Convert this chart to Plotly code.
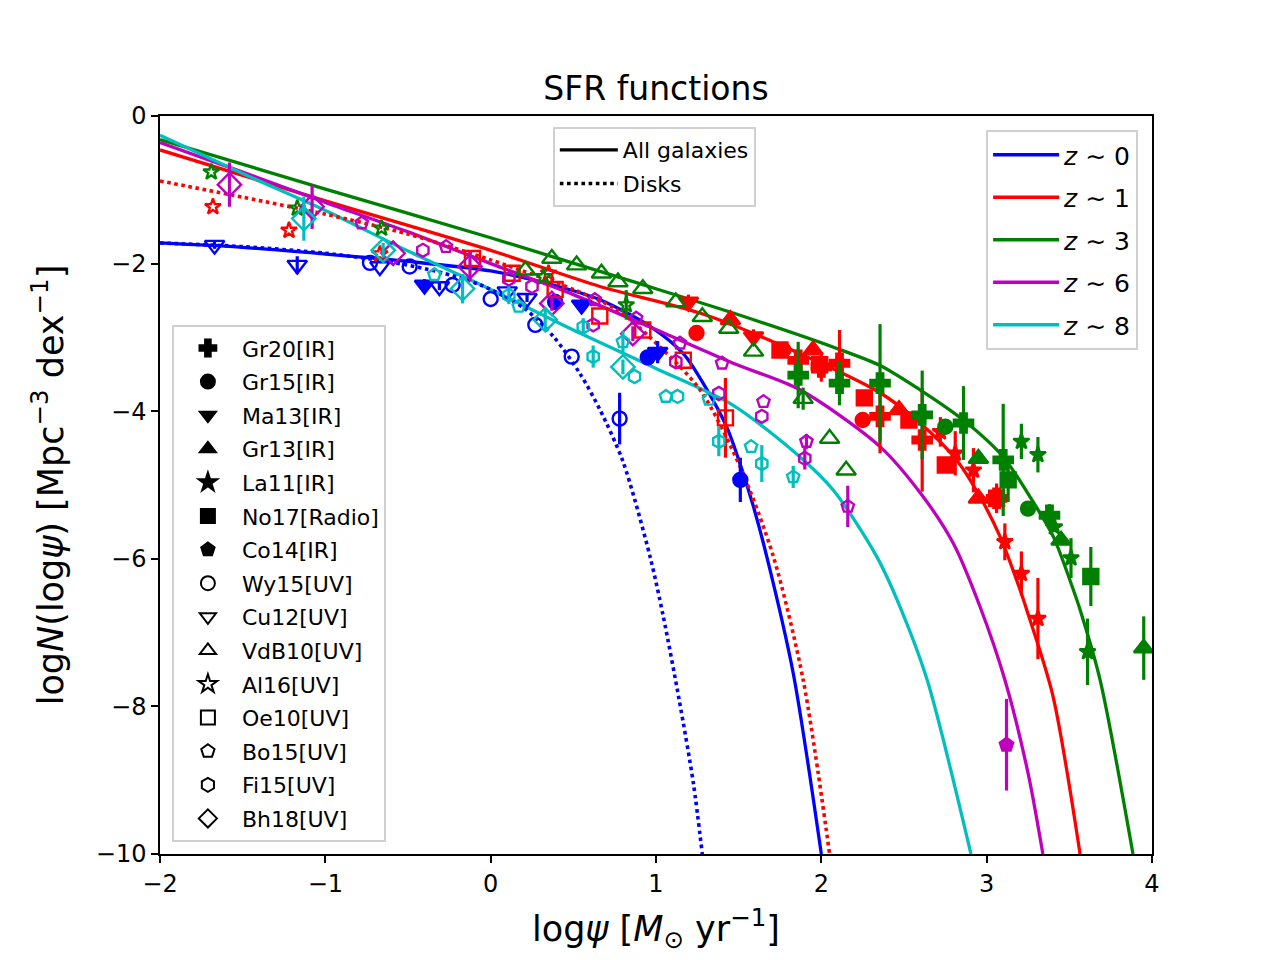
"""
SFR functions: model curves per redshift plus observed points from the literature
"""

import plotly.graph_objects as go

# ---- model curves (log psi, log N) ----
z0_x = [-2.0, -1.5, -1.0, -0.5, 0.0, 0.36, 0.661, 0.964, 1.165, 1.306, 1.427, 1.508, 1.589, 1.67, 1.83, 2.0]
z0_y = [-1.72, -1.78, -1.87, -1.97, -2.1, -2.28, -2.49, -2.85, -3.22, -3.70, -4.21, -4.71, -5.29, -5.97, -7.55, -10.0]

z1_x = [-2.0, -1.0, 0.0, 0.661, 1.266, 1.871, 2.355, 2.597, 2.818, 2.96, 3.081, 3.202, 3.242, 3.40, 3.565]
z1_y = [-0.46, -1.15, -1.82, -2.31, -2.67, -3.22, -3.75, -4.16, -4.66, -5.16, -5.70, -6.42, -6.69, -7.85, -10.0]

z3_x = [-2.0, -1.0, 0.0, 0.862, 1.467, 2.07, 2.355, 2.597, 2.859, 3.10, 3.262, 3.403, 3.524, 3.565, 3.686, 3.885]
z3_y = [-0.32, -0.99, -1.65, -2.245, -2.67, -3.13, -3.38, -3.71, -4.12, -4.62, -5.16, -5.70, -6.42, -6.69, -7.64, -10.0]

z6_x = [-2.0, -1.5, -1.0, -0.5, 0.0, 0.5, 0.964, 1.467, 1.871, 2.355, 2.616, 2.798, 2.96, 3.11, 3.25, 3.34]
z6_y = [-0.36, -0.76, -1.17, -1.57, -2.0, -2.42, -2.86, -3.35, -3.71, -4.48, -5.16, -5.79, -6.65, -7.64, -8.9, -10.0]

z8_x = [-2.0, -1.5, -1.0, -0.5, 0.0, 0.5, 1.0, 1.467, 1.871, 2.073, 2.335, 2.476, 2.64, 2.905]
z8_y = [-0.26, -0.78, -1.28, -1.83, -2.35, -2.9, -3.42, -3.92, -4.62, -5.07, -5.97, -6.65, -7.64, -10.0]

# disk-only curves (dotted)
z0_disk_x = [-2.0, -1.5, -1.0, -0.6, -0.3, -0.06, 0.2, 0.38, 0.54, 0.661, 0.80, 0.964, 1.044, 1.14, 1.226, 1.28]
z0_disk_y = [-1.72, -1.77, -1.86, -1.98, -2.12, -2.29, -2.6, -2.99, -3.49, -3.98, -4.68, -5.97, -6.78, -7.91, -9.04, -10.0]

z1_disk_x = [-2.0, -1.5, -1.0, -0.5, 0.0, 0.5, 0.76, 0.964, 1.266, 1.508, 1.71, 1.89, 2.05]
z1_disk_y = [-0.88, -1.1, -1.33, -1.6, -1.95, -2.35, -2.62, -3.0, -3.71, -4.75, -5.97, -7.64, -10.0]

# ---- observed points: (log psi, log N, error) ----
# z ~ 0
cu12_z0 = [(-1.67, -1.75, 0.05), (-1.17, -2.02, 0.12), (-0.67, -2.04, 0.0),
           (-0.31, -2.31, 0.05), (0.10, -2.38, 0.0), (0.22, -2.47, 0.05)]
wy15_z0 = [(-0.73, -1.99, 0.0), (-0.49, -2.04, 0.0), (-0.23, -2.29, 0.0), (0.0, -2.48, 0.0),
           (0.27, -2.83, 0.0), (0.49, -3.26, 0.0), (0.78, -4.10, 0.35)]
ma13_z0 = [(-0.40, -2.29, 0.08), (0.55, -2.56, 0.08), (1.01, -3.2, 0.15)]
gr15_z0 = [(0.39, -2.52, 0.0), (0.95, -3.27, 0.1), (1.51, -4.93, 0.3)]

# z ~ 1
al16_z1 = [(-1.68, -1.23, 0.0), (-1.22, -1.55, 0.0), (-0.67, -1.87, 0.0), (0.35, -2.13, 0.0)]
oe10_z1 = [(-0.11, -1.93, 0.0), (0.13, -2.13, 0.0), (0.39, -2.35, 0.0), (0.66, -2.71, 0.0),
           (0.92, -2.90, 0.0), (1.165, -3.31, 0.0), (1.42, -4.09, 0.54)]
gr15_z1 = [(1.245, -2.94, 0.0), (1.77, -3.17, 0.0), (2.25, -4.12, 0.0)]
ma13_z1 = [(1.196, -2.52, 0.1), (1.59, -2.99, 0.1)]
gr13_z1 = [(1.45, -2.76, 0.0), (1.95, -3.17, 0.0), (2.47, -3.98, 0.0), (2.95, -5.18, 0.0)]
gr20_z1 = [(1.86, -3.31, 0.15), (2.0, -3.40, 0.2), (2.11, -3.35, 0.45),
           (2.355, -4.07, 0.5), (2.61, -4.39, 0.7), (3.06, -5.18, 0.2)]
la11_z1 = [(2.72, -4.28, 0.2), (2.81, -4.57, 0.3), (2.92, -4.80, 0.3),
           (3.11, -5.77, 0.25), (3.21, -6.2, 0.3), (3.31, -6.81, 0.55)]
no17_z1 = [(1.75, -3.17, 0.0), (1.99, -3.37, 0.1), (2.26, -3.82, 0.0),
           (2.53, -4.12, 0.0), (2.75, -4.73, 0.0), (3.06, -5.18, 0.1)]

# z ~ 3
vdb10_z3 = [(0.21, -2.09, 0.0), (0.37, -1.93, 0.0), (0.52, -2.02, 0.0), (0.67, -2.13, 0.0),
            (0.77, -2.25, 0.0), (0.92, -2.34, 0.0), (1.12, -2.52, 0.0), (1.28, -2.72, 0.0),
            (1.44, -2.88, 0.0), (1.59, -3.19, 0.0), (1.89, -3.83, 0.15), (2.05, -4.37, 0.0),
            (2.15, -4.80, 0.0)]
al16_z3 = [(-1.69, -0.76, 0.0), (-1.17, -1.25, 0.0), (-0.66, -1.52, 0.0),
           (0.32, -2.18, 0.0), (0.82, -2.56, 0.2)]
gr20_z3 = [(1.86, -3.51, 0.45), (2.11, -3.62, 0.3), (2.355, -3.62, 0.8), (2.61, -4.05, 0.6),
           (2.86, -4.16, 0.5), (3.10, -4.66, 0.76), (3.38, -5.41, 0.15)]
gr15_z3 = [(2.75, -4.21, 0.0), (3.25, -5.32, 0.0)]
no17_z3 = [(3.13, -4.93, 0.3), (3.63, -6.24, 0.4)]
gr13_z3 = [(2.95, -4.64, 0.0), (3.45, -5.75, 0.0), (3.95, -7.21, 0.43)]
la11_z3 = [(3.21, -4.41, 0.24), (3.31, -4.59, 0.24), (3.41, -5.57, 0.0),
           (3.51, -5.99, 0.27), (3.61, -7.26, 0.45)]

# z ~ 6
bh18_z6 = [(-1.58, -0.93, 0.3), (-1.08, -1.23, 0.3), (-0.59, -1.86, 0.0),
           (-0.125, -2.04, 0.2), (0.37, -2.54, 0.1), (0.86, -2.95, 0.1)]
bo15_z6 = [(-0.78, -1.45, 0.0), (-0.27, -1.77, 0.0), (0.63, -2.49, 0.0), (0.88, -2.74, 0.0),
           (1.145, -3.08, 0.0), (1.40, -3.35, 0.0), (1.65, -3.87, 0.0), (1.91, -4.41, 0.1),
           (2.16, -5.29, 0.28)]
fi15_z6 = [(-0.41, -1.82, 0.0), (0.11, -2.21, 0.0), (0.25, -2.31, 0.0), (0.62, -2.83, 0.0),
           (1.12, -3.33, 0.0), (1.38, -3.76, 0.0), (1.64, -4.07, 0.0), (1.90, -4.64, 0.15)]
co14_z6 = [(3.12, -8.52, 0.62)]

# z ~ 8
bh18_z8 = [(-1.13, -1.39, 0.3), (-0.65, -1.82, 0.1), (-0.17, -2.34, 0.2),
           (0.33, -2.76, 0.15), (0.80, -3.40, 0.1)]
bo15_z8 = [(-0.34, -2.15, 0.0), (0.17, -2.58, 0.0), (0.80, -3.06, 0.15), (1.06, -3.80, 0.0),
           (1.32, -3.84, 0.0), (1.575, -4.48, 0.0), (1.83, -4.89, 0.15)]
fi15_z8 = [(0.11, -2.43, 0.12), (0.56, -2.86, 0.12), (0.62, -3.26, 0.15), (0.87, -3.53, 0.0),
           (1.13, -3.80, 0.0), (1.38, -4.41, 0.2), (1.64, -4.71, 0.25)]

# legend of the references (name, plotly symbol)
refs = [('Gr20[IR]', 'cross'), ('Gr15[IR]', 'circle'), ('Ma13[IR]', 'triangle-down'),
        ('Gr13[IR]', 'triangle-up'), ('La11[IR]', 'star'), ('No17[Radio]', 'square'),
        ('Co14[IR]', 'pentagon'), ('Wy15[UV]', 'circle-open'), ('Cu12[UV]', 'triangle-down-open'),
        ('VdB10[UV]', 'triangle-up-open'), ('Al16[UV]', 'star-open'), ('Oe10[UV]', 'square-open'),
        ('Bo15[UV]', 'pentagon-open'), ('Fi15[UV]', 'hexagon-open'), ('Bh18[UV]', 'diamond-open')]

BLUE, RED, GREEN, MAG, CYAN = '#0000ff', '#ff0000', '#008000', '#bf00bf', '#00bfbf'
FONT = 'DejaVu Sans'

fig = go.Figure()


def add_points(pts, symbol, color, size=14):
    # scatter with vertical error bars, no caps (like matplotlib errorbar)
    xs = [p[0] for p in pts]
    ys = [p[1] for p in pts]
    es = [p[2] for p in pts]
    fig.add_trace(go.Scatter(
        x=xs, y=ys, mode='markers', showlegend=False,
        marker=dict(symbol=symbol, color=color, size=size,
                    line=dict(color=color, width=2.4)),
        error_y=dict(type='data', array=es, visible=True,
                     thickness=3.2, width=0, color=color),
    ))


# curves first so markers sit on top
for cx, cy, col, name in [(z0_x, z0_y, BLUE, '<i>z</i> ∼ 0'),
                          (z1_x, z1_y, RED, '<i>z</i> ∼ 1'),
                          (z3_x, z3_y, GREEN, '<i>z</i> ∼ 3'),
                          (z6_x, z6_y, MAG, '<i>z</i> ∼ 6'),
                          (z8_x, z8_y, CYAN, '<i>z</i> ∼ 8')]:
    fig.add_trace(go.Scatter(x=cx, y=cy, mode='lines', name=name, legend='legend2',
                             legendgroup=name,
                             line=dict(color=col, width=3.3, shape='spline', smoothing=0.8)))

fig.add_trace(go.Scatter(x=z0_disk_x, y=z0_disk_y, mode='lines', showlegend=False,
                         line=dict(color=BLUE, width=3.6, dash='dot', shape='spline', smoothing=0.8)))
fig.add_trace(go.Scatter(x=z1_disk_x, y=z1_disk_y, mode='lines', showlegend=False,
                         line=dict(color=RED, width=3.6, dash='dot', shape='spline', smoothing=0.8)))

# observations
add_points(cu12_z0, 'triangle-down-open', BLUE, 17)
add_points(wy15_z0, 'circle-open', BLUE, 14)
add_points(ma13_z0, 'triangle-down', BLUE, 17)
add_points(gr15_z0, 'circle', BLUE, 14)

add_points(al16_z1, 'star-open', RED, 12)
add_points(oe10_z1, 'square-open', RED, 15)
add_points(gr15_z1, 'circle', RED, 14)
add_points(ma13_z1, 'triangle-down', RED, 17)
add_points(gr13_z1, 'triangle-up', RED, 17)
add_points(gr20_z1, 'cross', RED, 16)
add_points(la11_z1, 'star', RED, 12)
add_points(no17_z1, 'square', RED, 15)

add_points(vdb10_z3, 'triangle-up-open', GREEN, 17)
add_points(al16_z3, 'star-open', GREEN, 12)
add_points(gr20_z3, 'cross', GREEN, 16)
add_points(gr15_z3, 'circle', GREEN, 14)
add_points(no17_z3, 'square', GREEN, 15)
add_points(gr13_z3, 'triangle-up', GREEN, 17)
add_points(la11_z3, 'star', GREEN, 12)

add_points(bh18_z6, 'diamond-open', MAG, 18)
add_points(bo15_z6, 'pentagon-open', MAG, 13)
add_points(fi15_z6, 'hexagon-open', MAG, 13)
add_points(co14_z6, 'pentagon', MAG, 14)

add_points(bh18_z8, 'diamond-open', CYAN, 18)
add_points(bo15_z8, 'pentagon-open', CYAN, 13)
add_points(fi15_z8, 'hexagon-open', CYAN, 13)

# line-style legend (black)
fig.add_trace(go.Scatter(x=[None], y=[None], mode='lines', name='All galaxies', legend='legend',
                         legendgroup='all', line=dict(color='black', width=3.3)))
fig.add_trace(go.Scatter(x=[None], y=[None], mode='lines', name='Disks', legend='legend',
                         legendgroup='disk', line=dict(color='black', width=3.6, dash='dot')))

# reference legend (black markers), one group each so the gap spaces them out
for name, sym in refs:
    fig.add_trace(go.Scatter(x=[None], y=[None], mode='markers', name=name, legend='legend3',
                             legendgroup=name,
                             marker=dict(symbol=sym, color='black', size=14,
                                         line=dict(color='black', width=2))))

axis_common = dict(
    showline=True, linecolor='black', linewidth=1.5, mirror=True,
    ticks='outside', ticklen=7, tickwidth=1.5, tickcolor='black',
    showgrid=False, zeroline=False,
    tickfont=dict(family=FONT, size=24, color='black'),
)

legend_box = dict(bgcolor='rgba(255,255,255,0.85)', bordercolor='#d0d0d0', borderwidth=2,
                  xref='paper', yref='paper')

fig.update_layout(
    width=1280, height=960,
    paper_bgcolor='white', plot_bgcolor='white',
    # the page body adds 8 px, so the plot box lands on 160..1152 x 116..854
    margin=dict(l=152, r=136, t=108, b=114),
    font=dict(family=FONT, color='black'),
    title=dict(text='SFR functions', x=0.5, xref='paper', xanchor='center',
               y=1 - 80 / 960, yanchor='middle', font=dict(size=33, family=FONT)),
    xaxis=dict(range=[-2, 4], dtick=1,
               title=dict(text='log<i>ψ</i> [<i>M</i><sub>⊙</sub> yr<sup>−1</sup>]',
                          font=dict(size=35, family=FONT), standoff=20),
               **axis_common),
    yaxis=dict(range=[-10, 0], dtick=2,
               title=dict(text='log<i>N</i>(log<i>ψ</i>) [Mpc<sup>−3</sup> dex<sup>−1</sup>]',
                          font=dict(size=35, family=FONT), standoff=22),
               **axis_common),
    legend=dict(x=0.396, y=0.985, xanchor='left', yanchor='top', tracegroupgap=2,
                font=dict(size=22, family=FONT), itemwidth=58, **legend_box),
    legend2=dict(x=0.986, y=0.981, xanchor='right', yanchor='top', tracegroupgap=7,
                 font=dict(size=25, family=FONT), itemwidth=66, **legend_box),
    legend3=dict(x=0.012, y=0.016, xanchor='left', yanchor='bottom', tracegroupgap=2,
                 font=dict(size=22, family=FONT), itemwidth=58, **legend_box),
)

fig.write_html("out.html")
